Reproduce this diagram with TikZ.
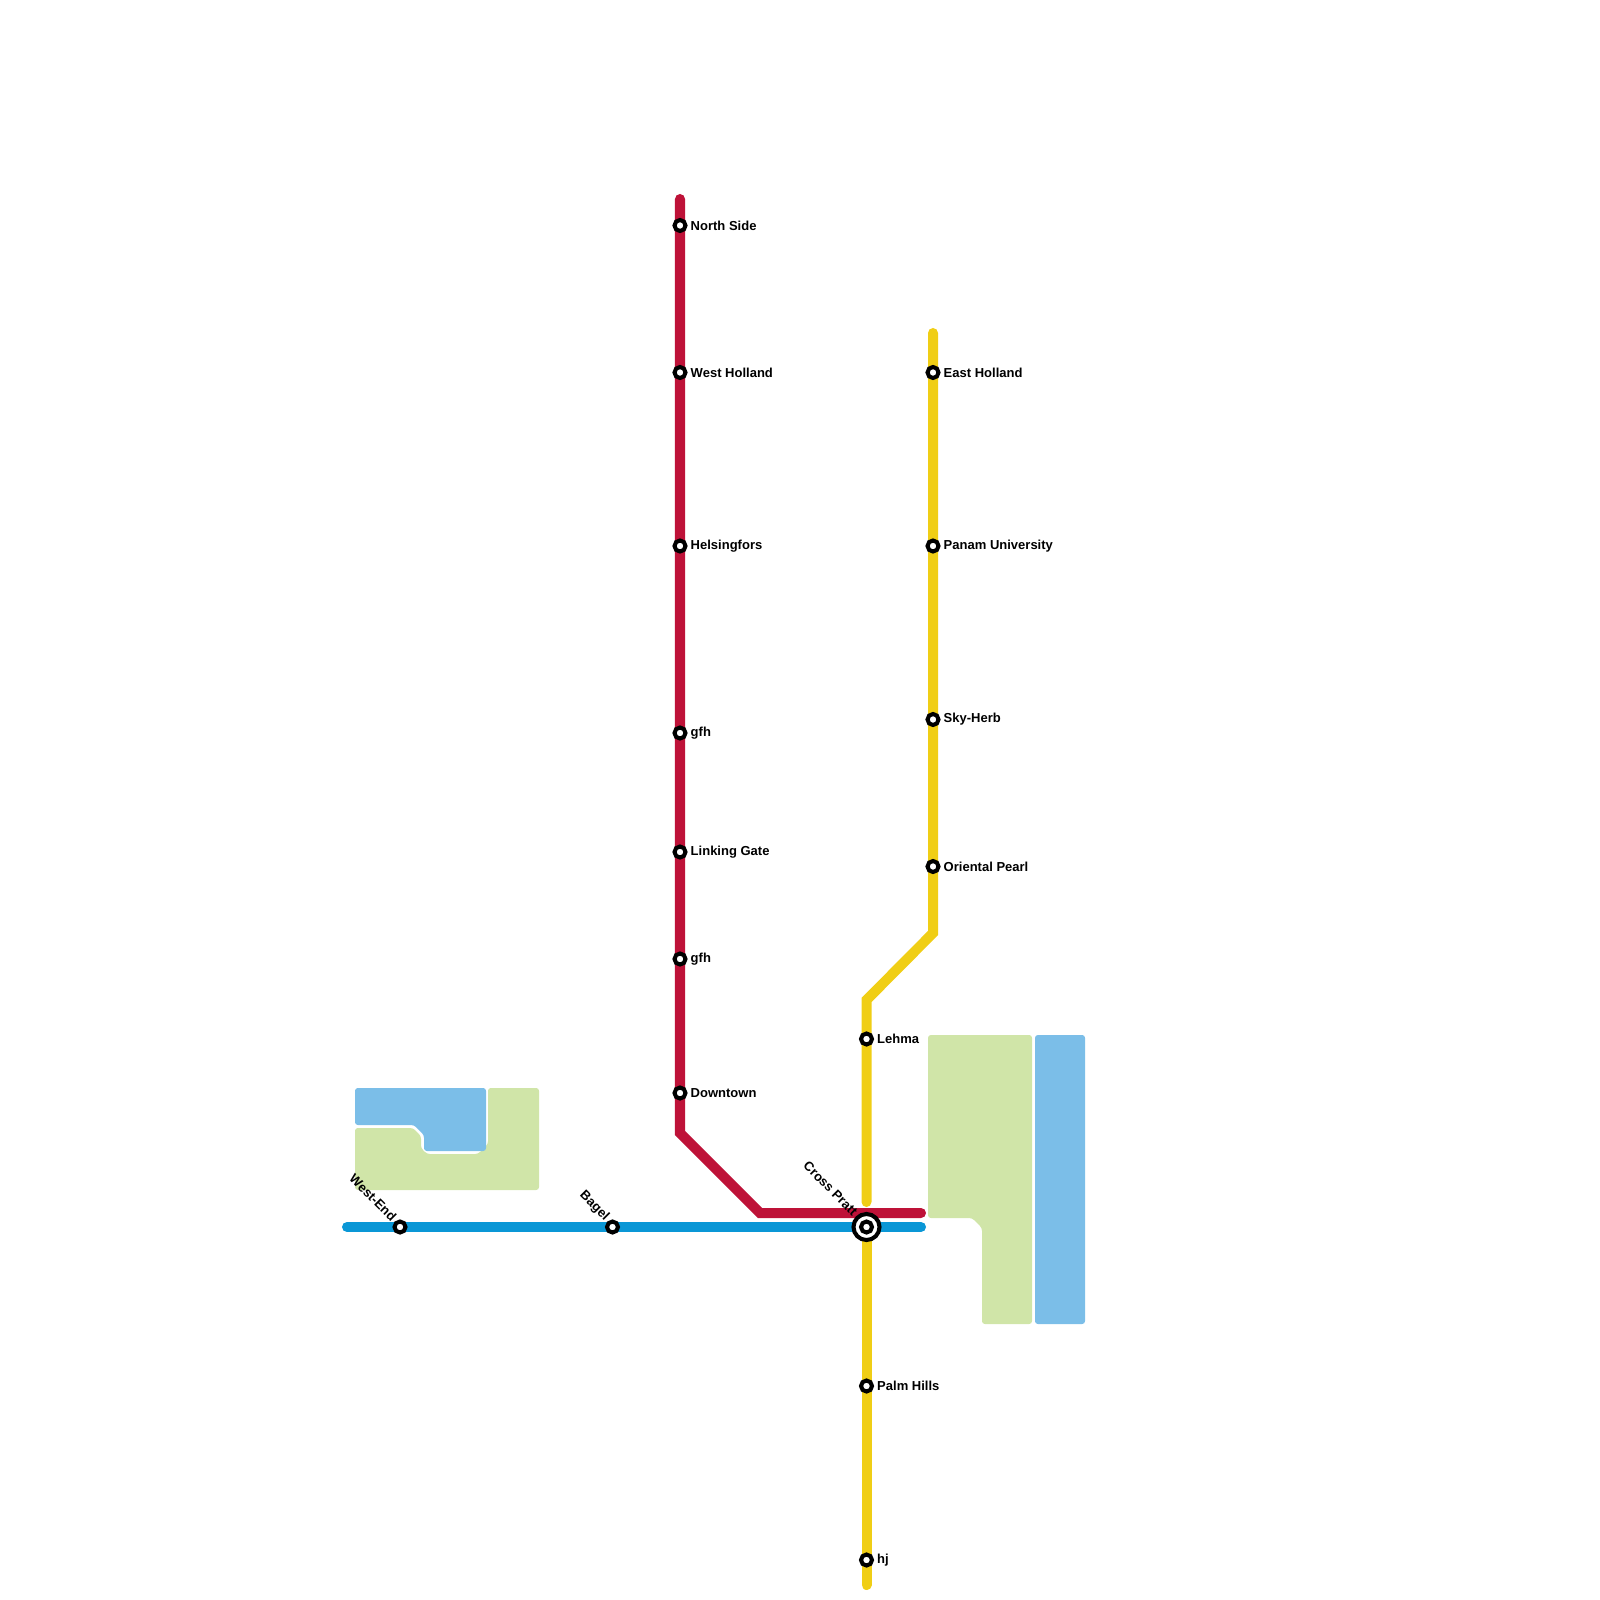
\documentclass[tikz,border=0pt]{standalone}
\usepackage{fontspec}
\setmainfont{Liberation Sans}
\usepackage{tikz}
\usetikzlibrary{positioning, backgrounds}

\definecolor{cRed}{RGB}{190,18,56}
\definecolor{cBlue}{RGB}{10,151,214}
\definecolor{cYellow}{RGB}{240,206,21}
\definecolor{cPark}{RGB}{208,229,168}
\definecolor{cWater}{RGB}{123,190,232}

\begin{document}
\begin{tikzpicture}[x=0.01cm, y=-0.01cm,
	station/.style={circle, draw=black, fill=white, line width=1.15pt, minimum size=0.11cm, inner sep=0pt},
	xchange/.style={circle, draw=black, fill=white, line width=1.15pt, minimum size=0.26cm, inner sep=0pt},
	every label/.style={font=\bfseries\fontsize{3.7}{4.4}\selectfont, inner sep=0pt},
	label distance=0.025cm,
	metro/.style={line width=2.85pt, line cap=round, line join=miter},
	park/.style={fill=cPark, rounded corners=0.8pt},
	water/.style={fill=cWater, rounded corners=0.8pt}]
\useasboundingbox (0,0) rectangle (1600,1600);

\node[station, label=right:North Side](ns) at (680,225.5) {};
\node[station, label=right:West Holland](wh) at (680,372.5) {};
\node[station, label=right:Helsingfors](hf) at (680,546) {};
\node[station, label=right:gfh](g1) at (680,733) {};
\node[station, label=right:Linking Gate](lg) at (680,852) {};
\node[station, label=right:gfh](g2) at (680,959) {};
\node[station, label=right:Downtown](dt) at (680,1093) {};

\node[station, label=right:East Holland](eh) at (933,372.5) {};
\node[station, label=right:Panam University](pu) at (933,546) {};
\node[station, label=right:Sky-Herb](sh) at (933,719.5) {};
\node[station, label=right:Oriental Pearl](op) at (933,866.5) {};
\node[station, label=right:Lehma](le) at (866.5,1039) {};
\node[station, label=right:Palm Hills](ph) at (866.5,1386) {};
\node[station, label=right:hj](hj) at (866.5,1560) {};

\node[station, label={[rotate=-45, anchor=east]135:West-End}](we) at (400,1227) {};
\node[station, label={[rotate=-45, anchor=east]135:Bagel}](bg) at (612.5,1227) {};
\node[xchange, label={[rotate=-45, anchor=east]135:Cross Pratt}](cp) at (866.5,1227) {};
\node[station](cpi) at (cp) {};

\coordinate (rtop) at (680,199);
\coordinate (rb1) at (680,1133);
\coordinate (rb2) at (760,1213);
\coordinate (rend) at (921,1213);
\coordinate (ytop) at (933,333);
\coordinate (yb1) at (933,933);
\coordinate (yb2) at (866.5,1000);
\coordinate (yend) at (866.5,1202);
\coordinate (ybot) at (866.5,1585);
\coordinate (bleft) at (347,1227);
\coordinate (bright) at (921,1227);

\begin{pgfonlayer}{background}
% parks and water
\path[park] (355,1128) -- (413,1128) -- (421,1136) -- (421,1148) -- (427,1154) -- (478,1154) -- (488,1144)
	-- (488,1088) -- (539,1088) -- (539,1190) -- (355,1190) -- cycle;
\path[water] (355,1088) -- (486,1088) -- (486,1151) -- (424,1151) -- (424,1135) -- (414,1125) -- (355,1125) -- cycle;
\path[park] (928,1035) -- (1032,1035) -- (1032,1324) -- (982,1324) -- (982,1228) -- (972,1218) -- (928,1218) -- cycle;
\path[water] (1035,1035) rectangle (1085,1324);

% lines
\draw[metro, cRed] (rtop) -- (ns.center) -- (dt.center) -- (rb1) -- (rb2) -- (rend);
\draw[metro, cBlue] (bleft) -- (we.center) -- (bg.center) -- (cp.center) -- (bright);
\draw[metro, cYellow] (ytop) -- (eh.center) -- (op.center) -- (yb1) -- (yb2) -- (le.center) -- (yend);
\draw[metro, cYellow] (cp.center) -- (ph.center) -- (hj.center) -- (ybot);
\end{pgfonlayer}

\end{tikzpicture}
\end{document}
